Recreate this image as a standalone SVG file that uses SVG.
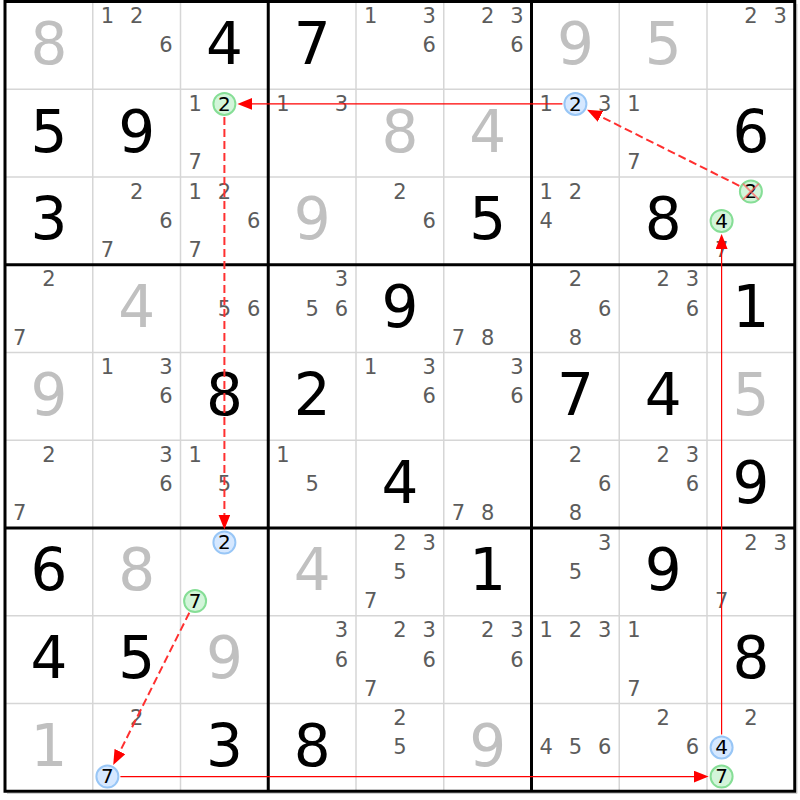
<svg xmlns="http://www.w3.org/2000/svg" width="800" height="800" viewBox="0 0 800 800">
<defs>
<style>
.thin{stroke:#d6d6d6;stroke-width:1.5;fill:none}
.thick{stroke:#000;stroke-width:3;fill:none}
.g{font-family:"DejaVu Sans",Verdana,sans-serif;font-size:58px;text-anchor:middle;fill:#000}
.s{fill:#c0c0c0}
.c{font-family:"DejaVu Sans",Verdana,sans-serif;font-size:21px;text-anchor:middle;fill:#5c5c5c}
.k{fill:#000;font-size:20px}
.hg{fill:#d3f5da;stroke:#86de96;stroke-width:2}
.hb{fill:#d6e8ff;stroke:#98c6f6;stroke-width:2}
.x{stroke:#ff6060;stroke-opacity:0.7;stroke-width:2}
.sol{stroke:#ff0000;stroke-width:1.2;fill:none}
.dash{stroke:#ff3030;stroke-width:2;stroke-dasharray:8 4;fill:none}
</style>
<marker id="ah" markerUnits="userSpaceOnUse" markerWidth="15" markerHeight="12" refX="12" refY="6" orient="auto">
<path d="M0,0 L15,6 L0,12 z" fill="#ff0000"/>
</marker>
</defs>
<rect x="0" y="0" width="800" height="800" fill="#fff"/>
<g id="grid">
<path class="thin" d="M92.75,1.5V791.25M180.5,1.5V791.25M356,1.5V791.25M443.75,1.5V791.25M619.25,1.5V791.25M707,1.5V791.25M5,89.25H794.75M5,177H794.75M5,352.5H794.75M5,440.25H794.75M5,615.75H794.75M5,703.5H794.75"/>
<path class="thick" d="M268.25,1.5V791.25M531.5,1.5V791.25M5,264.75H794.75M5,528H794.75"/>
<path d="M797,4V793.5H7" stroke="#cfcfcf" stroke-width="1" fill="none"/>
<rect class="thick" x="5" y="1.5" width="789.75" height="789.75"/>
</g>
<g id="r0">
<g id="r0c0"><text class="g s" x="48.9" y="63.9">8</text></g>
<g id="r0c1"><text class="c" x="107.4" y="23">1</text><text class="c" x="136.6" y="23">2</text><text class="c" x="165.9" y="52.3">6</text></g>
<g id="r0c2"><text class="g" x="224.4" y="63.9">4</text></g>
<g id="r0c3"><text class="g" x="312.1" y="63.9">7</text></g>
<g id="r0c4"><text class="c" x="370.6" y="23">1</text><text class="c" x="429.1" y="23">3</text><text class="c" x="429.1" y="52.3">6</text></g>
<g id="r0c5"><text class="c" x="487.6" y="23">2</text><text class="c" x="516.9" y="23">3</text><text class="c" x="516.9" y="52.3">6</text></g>
<g id="r0c6"><text class="g s" x="575.4" y="63.9">9</text></g>
<g id="r0c7"><text class="g s" x="663.1" y="63.9">5</text></g>
<g id="r0c8"><text class="c" x="750.9" y="23">2</text><text class="c" x="780.1" y="23">3</text></g>
</g>
<g id="r1">
<g id="r1c0"><text class="g" x="48.9" y="151.6">5</text></g>
<g id="r1c1"><text class="g" x="136.6" y="151.6">9</text></g>
<g id="r1c2"><text class="c" x="195.1" y="110.8">1</text><circle class="hg" cx="224.4" cy="103.9" r="11"/><text class="c k" x="224.4" y="110.5">2</text><text class="c" x="195.1" y="169.3">7</text></g>
<g id="r1c3"><text class="c" x="282.9" y="110.8">1</text><text class="c" x="341.4" y="110.8">3</text></g>
<g id="r1c4"><text class="g s" x="399.9" y="151.6">8</text></g>
<g id="r1c5"><text class="g s" x="487.6" y="151.6">4</text></g>
<g id="r1c6"><text class="c" x="546.1" y="110.8">1</text><circle class="hb" cx="575.4" cy="103.9" r="11"/><text class="c k" x="575.4" y="110.5">2</text><text class="c" x="604.6" y="110.8">3</text></g>
<g id="r1c7"><text class="c" x="633.9" y="110.8">1</text><text class="c" x="633.9" y="169.3">7</text></g>
<g id="r1c8"><text class="g" x="750.9" y="151.6">6</text></g>
</g>
<g id="r2">
<g id="r2c0"><text class="g" x="48.9" y="239.4">3</text></g>
<g id="r2c1"><text class="c" x="136.6" y="198.5">2</text><text class="c" x="165.9" y="227.8">6</text><text class="c" x="107.4" y="257">7</text></g>
<g id="r2c2"><text class="c" x="195.1" y="198.5">1</text><text class="c" x="224.4" y="198.5">2</text><text class="c" x="253.6" y="227.8">6</text><text class="c" x="195.1" y="257">7</text></g>
<g id="r2c3"><text class="g s" x="312.1" y="239.4">9</text></g>
<g id="r2c4"><text class="c" x="399.9" y="198.5">2</text><text class="c" x="429.1" y="227.8">6</text></g>
<g id="r2c5"><text class="g" x="487.6" y="239.4">5</text></g>
<g id="r2c6"><text class="c" x="546.1" y="198.5">1</text><text class="c" x="575.4" y="198.5">2</text><text class="c" x="546.1" y="227.8">4</text></g>
<g id="r2c7"><text class="g" x="663.1" y="239.4">8</text></g>
<g id="r2c8"><circle class="hg" cx="750.9" cy="191.6" r="11"/><text class="c k" x="750.9" y="198.2">2</text><path class="x" d="M742.9,183.6L758.9,199.6M758.9,183.6L742.9,199.6"/><circle class="hg" cx="721.6" cy="220.9" r="11"/><text class="c k" x="721.6" y="227.5">4</text><text class="c" x="721.6" y="257">7</text></g>
</g>
<g id="r3">
<g id="r3c0"><text class="c" x="48.9" y="286.3">2</text><text class="c" x="19.6" y="344.8">7</text></g>
<g id="r3c1"><text class="g s" x="136.6" y="327.1">4</text></g>
<g id="r3c2"><text class="c" x="224.4" y="315.6">5</text><text class="c" x="253.6" y="315.6">6</text></g>
<g id="r3c3"><text class="c" x="341.4" y="286.3">3</text><text class="c" x="312.1" y="315.6">5</text><text class="c" x="341.4" y="315.6">6</text></g>
<g id="r3c4"><text class="g" x="399.9" y="327.1">9</text></g>
<g id="r3c5"><text class="c" x="458.4" y="344.8">7</text><text class="c" x="487.6" y="344.8">8</text></g>
<g id="r3c6"><text class="c" x="575.4" y="286.3">2</text><text class="c" x="604.6" y="315.6">6</text><text class="c" x="575.4" y="344.8">8</text></g>
<g id="r3c7"><text class="c" x="663.1" y="286.3">2</text><text class="c" x="692.4" y="286.3">3</text><text class="c" x="692.4" y="315.6">6</text></g>
<g id="r3c8"><text class="g" x="750.9" y="327.1">1</text></g>
</g>
<g id="r4">
<g id="r4c0"><text class="g s" x="48.9" y="414.9">9</text></g>
<g id="r4c1"><text class="c" x="107.4" y="374">1</text><text class="c" x="165.9" y="374">3</text><text class="c" x="165.9" y="403.3">6</text></g>
<g id="r4c2"><text class="g" x="224.4" y="414.9">8</text></g>
<g id="r4c3"><text class="g" x="312.1" y="414.9">2</text></g>
<g id="r4c4"><text class="c" x="370.6" y="374">1</text><text class="c" x="429.1" y="374">3</text><text class="c" x="429.1" y="403.3">6</text></g>
<g id="r4c5"><text class="c" x="516.9" y="374">3</text><text class="c" x="516.9" y="403.3">6</text></g>
<g id="r4c6"><text class="g" x="575.4" y="414.9">7</text></g>
<g id="r4c7"><text class="g" x="663.1" y="414.9">4</text></g>
<g id="r4c8"><text class="g s" x="750.9" y="414.9">5</text></g>
</g>
<g id="r5">
<g id="r5c0"><text class="c" x="48.9" y="461.8">2</text><text class="c" x="19.6" y="520.3">7</text></g>
<g id="r5c1"><text class="c" x="165.9" y="461.8">3</text><text class="c" x="165.9" y="491.1">6</text></g>
<g id="r5c2"><text class="c" x="195.1" y="461.8">1</text><text class="c" x="224.4" y="491.1">5</text></g>
<g id="r5c3"><text class="c" x="282.9" y="461.8">1</text><text class="c" x="312.1" y="491.1">5</text></g>
<g id="r5c4"><text class="g" x="399.9" y="502.6">4</text></g>
<g id="r5c5"><text class="c" x="458.4" y="520.3">7</text><text class="c" x="487.6" y="520.3">8</text></g>
<g id="r5c6"><text class="c" x="575.4" y="461.8">2</text><text class="c" x="604.6" y="491.1">6</text><text class="c" x="575.4" y="520.3">8</text></g>
<g id="r5c7"><text class="c" x="663.1" y="461.8">2</text><text class="c" x="692.4" y="461.8">3</text><text class="c" x="692.4" y="491.1">6</text></g>
<g id="r5c8"><text class="g" x="750.9" y="502.6">9</text></g>
</g>
<g id="r6">
<g id="r6c0"><text class="g" x="48.9" y="590.4">6</text></g>
<g id="r6c1"><text class="g s" x="136.6" y="590.4">8</text></g>
<g id="r6c2"><circle class="hb" cx="224.4" cy="542.6" r="11"/><text class="c k" x="224.4" y="549.2">2</text><circle class="hg" cx="195.1" cy="601.1" r="11"/><text class="c k" x="195.1" y="607.7">7</text></g>
<g id="r6c3"><text class="g s" x="312.1" y="590.4">4</text></g>
<g id="r6c4"><text class="c" x="399.9" y="549.5">2</text><text class="c" x="429.1" y="549.5">3</text><text class="c" x="399.9" y="578.8">5</text><text class="c" x="370.6" y="608">7</text></g>
<g id="r6c5"><text class="g" x="487.6" y="590.4">1</text></g>
<g id="r6c6"><text class="c" x="604.6" y="549.5">3</text><text class="c" x="575.4" y="578.8">5</text></g>
<g id="r6c7"><text class="g" x="663.1" y="590.4">9</text></g>
<g id="r6c8"><text class="c" x="750.9" y="549.5">2</text><text class="c" x="780.1" y="549.5">3</text><text class="c" x="721.6" y="608">7</text></g>
</g>
<g id="r7">
<g id="r7c0"><text class="g" x="48.9" y="678.1">4</text></g>
<g id="r7c1"><text class="g" x="136.6" y="678.1">5</text></g>
<g id="r7c2"><text class="g s" x="224.4" y="678.1">9</text></g>
<g id="r7c3"><text class="c" x="341.4" y="637.3">3</text><text class="c" x="341.4" y="666.6">6</text></g>
<g id="r7c4"><text class="c" x="399.9" y="637.3">2</text><text class="c" x="429.1" y="637.3">3</text><text class="c" x="429.1" y="666.6">6</text><text class="c" x="370.6" y="695.8">7</text></g>
<g id="r7c5"><text class="c" x="487.6" y="637.3">2</text><text class="c" x="516.9" y="637.3">3</text><text class="c" x="516.9" y="666.6">6</text></g>
<g id="r7c6"><text class="c" x="546.1" y="637.3">1</text><text class="c" x="575.4" y="637.3">2</text><text class="c" x="604.6" y="637.3">3</text></g>
<g id="r7c7"><text class="c" x="633.9" y="637.3">1</text><text class="c" x="633.9" y="695.8">7</text></g>
<g id="r7c8"><text class="g" x="750.9" y="678.1">8</text></g>
</g>
<g id="r8">
<g id="r8c0"><text class="g s" x="48.9" y="765.9">1</text></g>
<g id="r8c1"><text class="c" x="136.6" y="725">2</text><circle class="hb" cx="107.4" cy="776.6" r="11"/><text class="c k" x="107.4" y="783.2">7</text></g>
<g id="r8c2"><text class="g" x="224.4" y="765.9">3</text></g>
<g id="r8c3"><text class="g" x="312.1" y="765.9">8</text></g>
<g id="r8c4"><text class="c" x="399.9" y="725">2</text><text class="c" x="399.9" y="754.3">5</text></g>
<g id="r8c5"><text class="g s" x="487.6" y="765.9">9</text></g>
<g id="r8c6"><text class="c" x="546.1" y="754.3">4</text><text class="c" x="575.4" y="754.3">5</text><text class="c" x="604.6" y="754.3">6</text></g>
<g id="r8c7"><text class="c" x="663.1" y="725">2</text><text class="c" x="692.4" y="754.3">6</text></g>
<g id="r8c8"><text class="c" x="750.9" y="725">2</text><circle class="hb" cx="721.6" cy="747.4" r="11"/><text class="c k" x="721.6" y="754">4</text><circle class="hg" cx="721.6" cy="776.6" r="11"/><text class="c k" x="721.6" y="783.2">7</text></g>
</g>
<g id="connectors">
<line class="sol" x1="562.4" y1="103.9" x2="240.4" y2="103.9" marker-end="url(#ah)"/>
<line class="dash" x1="739.3" y1="185.8" x2="589.7" y2="111.05" marker-end="url(#ah)"/>
<line class="dash" x1="224.4" y1="116.9" x2="224.4" y2="526.6" marker-end="url(#ah)"/>
<line class="dash" x1="189.3" y1="612.7" x2="114.55" y2="762.3" marker-end="url(#ah)"/>
<line class="sol" x1="120.4" y1="776.6" x2="705.6" y2="776.6" marker-end="url(#ah)"/>
<line class="sol" x1="721.6" y1="734.4" x2="721.6" y2="236.9" marker-end="url(#ah)"/>
</g>
</svg>
